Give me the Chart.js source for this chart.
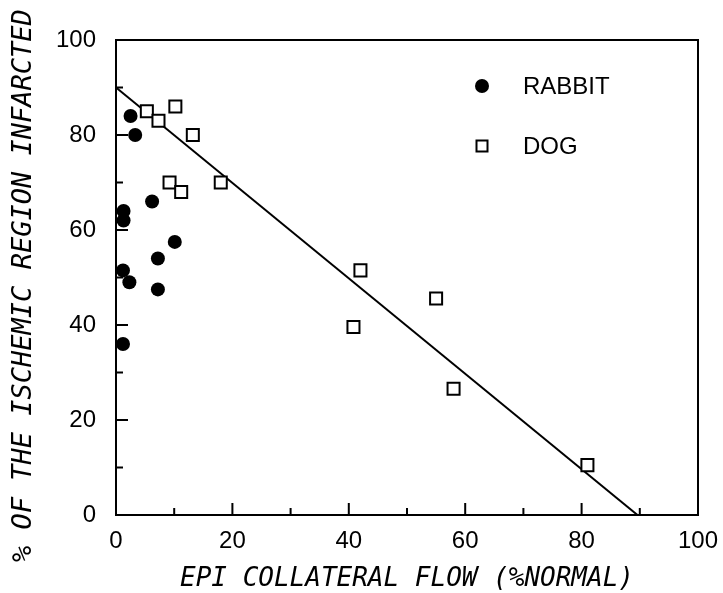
<!DOCTYPE html>
<html>
<head>
<meta charset="utf-8">
<script src="https://cdn.jsdelivr.net/npm/chart.js@4.4.1/dist/chart.umd.min.js"></script>
<style>
    html, body { margin: 0; padding: 0; background: #fff; }
    #wrap { width: 723px; height: 593px; }
</style>
</head>
<body>
<div id="wrap"><canvas id="chart" width="723" height="593"></canvas></div>
<script>
// Rabbit points: epicardial collateral flow vs. % infarcted.
var rabbitFlow = [2.5, 3.3, 6.2, 1.3, 1.3, 10.1, 7.2, 1.2, 2.3, 7.2, 1.2];
var rabbitInfarct = [84, 80, 66, 64, 62, 57.5, 54, 51.5, 49, 47.5, 36];

// Dog points.
var dogFlow = [5.3, 7.3, 10.2, 13.2, 9.2, 11.2, 18, 42, 55, 40.8, 58, 81];
var dogInfarct = [85, 83, 86, 80, 70, 68, 70, 51.5, 45.6, 39.6, 26.6, 10.5];

// Regression line end points.
var fitFlow = [0, 89.6];
var fitInfarct = [90, 0];

// Axis tick values.
var majorTicks = [0, 20, 40, 60, 80, 100];
var minorTicks = [10, 30, 50, 70, 90];

var legendLabels = ['RABBIT', 'DOG'];

function toPoints(xs, ys) {
    return xs.map(function (x, i) {
        return {x: x, y: ys[i]};
    });
}

/**
 * Box around the plot and inward tick marks.
 */
var framePlugin = {
    id: 'frame',
    afterDraw: function (chart) {
        var ctx = chart.ctx;
        var a = chart.chartArea;
        var xs = chart.scales.x;
        var ys = chart.scales.y;

        ctx.save();
        ctx.strokeStyle = '#000';
        ctx.lineWidth = 2;
        ctx.strokeRect(a.left, a.top, a.right - a.left, a.bottom - a.top);

        ctx.beginPath();
        majorTicks.concat(minorTicks).forEach(function (v) {
            var len = majorTicks.indexOf(v) >= 0 ? 12 : 7;
            var px = xs.getPixelForValue(v);
            ctx.moveTo(px, a.bottom);
            ctx.lineTo(px, a.bottom - len);
            var py = ys.getPixelForValue(v);
            ctx.moveTo(a.left, py);
            ctx.lineTo(a.left + len, py);
        });
        ctx.stroke();
        ctx.restore();
    }
};

/**
 * Legend drawn inside the plot, upper right.
 */
var legendPlugin = {
    id: 'innerLegend',
    afterDraw: function (chart) {
        var ctx = chart.ctx;
        var a = chart.chartArea;
        var mx = a.left + 366;
        var tx = a.left + 407;
        var rows = [a.top + 46, a.top + 106];

        ctx.save();
        ctx.fillStyle = '#000';
        ctx.strokeStyle = '#000';
        ctx.lineWidth = 2;

        ctx.beginPath();
        ctx.arc(mx, rows[0], 7, 0, Math.PI * 2);
        ctx.fill();

        ctx.strokeRect(mx - 5.5, rows[1] - 5.5, 11, 11);

        ctx.font = '24px "Liberation Sans", Arial, sans-serif';
        ctx.textBaseline = 'middle';
        ctx.textAlign = 'left';
        legendLabels.forEach(function (label, i) {
            ctx.fillText(label, tx, rows[i] + 1);
        });
        ctx.restore();
    }
};

var tickFont = {family: '"Liberation Sans", Arial, sans-serif', size: 24};
var titleFont = {family: '"DejaVu Sans Mono", monospace', size: 27, style: 'italic', lineHeight: 1};

var chart = new Chart(document.getElementById('chart'), {
    type: 'scatter',
    data: {
        datasets: [
            {
                label: legendLabels[0],
                data: toPoints(rabbitFlow, rabbitInfarct),
                pointStyle: 'circle',
                pointRadius: 7,
                backgroundColor: '#000',
                borderColor: '#000',
                borderWidth: 0
            },
            {
                label: legendLabels[1],
                data: toPoints(dogFlow, dogInfarct),
                pointStyle: 'rect',
                pointRadius: 8.5,
                backgroundColor: '#fff',
                borderColor: '#000',
                borderWidth: 2
            },
            {
                type: 'line',
                label: 'fit',
                data: toPoints(fitFlow, fitInfarct),
                borderColor: '#000',
                borderWidth: 2,
                pointRadius: 0,
                fill: false
            }
        ]
    },
    options: {
        responsive: false,
        animation: false,
        layout: {
            padding: {left: 0, top: 40, right: 25, bottom: 0}
        },
        plugins: {
            legend: {display: false},
            tooltip: {enabled: false}
        },
        scales: {
            x: {
                type: 'linear',
                min: 0,
                max: 100,
                grid: {display: false},
                border: {display: false},
                afterBuildTicks: function (scale) {
                    scale.ticks = majorTicks.map(function (v) { return {value: v}; });
                },
                afterFit: function (scale) {
                    scale.height = 78;
                },
                ticks: {
                    color: '#000',
                    font: tickFont,
                    padding: 4,
                    maxRotation: 0
                },
                title: {
                    display: true,
                    text: 'EPI COLLATERAL FLOW (%NORMAL)',
                    color: '#000',
                    font: {family: '"DejaVu Sans Mono", monospace', size: 26, style: 'italic', lineHeight: 1},
                    padding: {top: 0, bottom: 1}
                }
            },
            y: {
                type: 'linear',
                min: 0,
                max: 100,
                grid: {display: false},
                border: {display: false},
                afterBuildTicks: function (scale) {
                    scale.ticks = majorTicks.map(function (v) { return {value: v}; });
                },
                afterFit: function (scale) {
                    scale.width = 116;
                },
                ticks: {
                    color: '#000',
                    font: tickFont,
                    padding: 12
                },
                title: {
                    display: true,
                    text: '% OF THE ISCHEMIC REGION INFARCTED ',
                    color: '#000',
                    font: titleFont,
                    padding: {top: 10, bottom: 0}
                }
            }
        }
    },
    plugins: [framePlugin, legendPlugin]
});
</script>
</body>
</html>
